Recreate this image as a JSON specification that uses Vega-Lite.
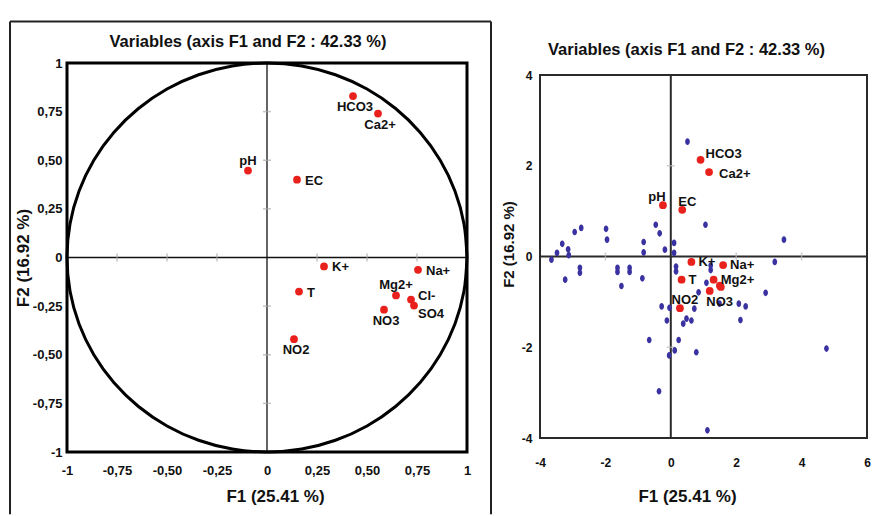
{
  "$schema": "https://vega.github.io/schema/vega-lite/v6.json",
  "padding": {"left": 9, "top": 20, "right": 0, "bottom": 0},
  "bounds": "flush",
  "spacing": 73,
  "config": {
    "font": "Liberation Sans",
    "view": {"stroke": null},
    "axis": {"domain": false, "ticks": false, "tickSize": 0, "grid": false, "labelFontWeight": "bold", "titleFontWeight": "bold", "labelColor": "#111", "titleColor": "#111", "labelOverlap": false, "labelFlush": false}
  },
  "datasets": {
    "circle": [
      {"a": 0, "cx": 1, "cy": 0}, {"a": 10, "cx": 0.9848, "cy": 0.1736}, {"a": 20, "cx": 0.9397, "cy": 0.342}, {"a": 30, "cx": 0.866, "cy": 0.5},
      {"a": 40, "cx": 0.766, "cy": 0.6428}, {"a": 50, "cx": 0.6428, "cy": 0.766}, {"a": 60, "cx": 0.5, "cy": 0.866}, {"a": 70, "cx": 0.342, "cy": 0.9397},
      {"a": 80, "cx": 0.1736, "cy": 0.9848}, {"a": 90, "cx": 0, "cy": 1}, {"a": 100, "cx": -0.1736, "cy": 0.9848}, {"a": 110, "cx": -0.342, "cy": 0.9397},
      {"a": 120, "cx": -0.5, "cy": 0.866}, {"a": 130, "cx": -0.6428, "cy": 0.766}, {"a": 140, "cx": -0.766, "cy": 0.6428}, {"a": 150, "cx": -0.866, "cy": 0.5},
      {"a": 160, "cx": -0.9397, "cy": 0.342}, {"a": 170, "cx": -0.9848, "cy": 0.1736}, {"a": 180, "cx": -1, "cy": 0}, {"a": 190, "cx": -0.9848, "cy": -0.1736},
      {"a": 200, "cx": -0.9397, "cy": -0.342}, {"a": 210, "cx": -0.866, "cy": -0.5}, {"a": 220, "cx": -0.766, "cy": -0.6428}, {"a": 230, "cx": -0.6428, "cy": -0.766},
      {"a": 240, "cx": -0.5, "cy": -0.866}, {"a": 250, "cx": -0.342, "cy": -0.9397}, {"a": 260, "cx": -0.1736, "cy": -0.9848}, {"a": 270, "cx": 0, "cy": -1},
      {"a": 280, "cx": 0.1736, "cy": -0.9848}, {"a": 290, "cx": 0.342, "cy": -0.9397}, {"a": 300, "cx": 0.5, "cy": -0.866}, {"a": 310, "cx": 0.6428, "cy": -0.766},
      {"a": 320, "cx": 0.766, "cy": -0.6428}, {"a": 330, "cx": 0.866, "cy": -0.5}, {"a": 340, "cx": 0.9397, "cy": -0.342}, {"a": 350, "cx": 0.9848, "cy": -0.1736},
      {"a": 360, "cx": 1, "cy": 0}
    ],
    "ticksL": [{"v": -0.75}, {"v": -0.5}, {"v": -0.25}, {"v": 0.25}, {"v": 0.5}, {"v": 0.75}],
    "ticksRx": [{"v": -2}, {"v": 2}, {"v": 4}],
    "ticksRy": [{"v": -2}, {"v": 2}],
    "vars": [
      {"name": "HCO3", "F1": 0.43, "F2": 0.83},
      {"name": "Ca2+", "F1": 0.555, "F2": 0.74},
      {"name": "pH", "F1": -0.095, "F2": 0.447},
      {"name": "EC", "F1": 0.15, "F2": 0.4},
      {"name": "K+", "F1": 0.285, "F2": -0.046},
      {"name": "Na+", "F1": 0.755, "F2": -0.063},
      {"name": "T", "F1": 0.16, "F2": -0.175},
      {"name": "Mg2+", "F1": 0.645, "F2": -0.195},
      {"name": "Cl-", "F1": 0.72, "F2": -0.216},
      {"name": "SO4", "F1": 0.735, "F2": -0.247},
      {"name": "NO3", "F1": 0.585, "F2": -0.268},
      {"name": "NO2", "F1": 0.135, "F2": -0.42}
    ],
    "varsR": [
      {"name": "HCO3", "F1": 0.91, "F2": 2.13},
      {"name": "Ca2+", "F1": 1.17, "F2": 1.86},
      {"name": "pH", "F1": -0.24, "F2": 1.13},
      {"name": "EC", "F1": 0.35, "F2": 1.03},
      {"name": "K+", "F1": 0.63, "F2": -0.12},
      {"name": "Na+", "F1": 1.6, "F2": -0.19},
      {"name": "T", "F1": 0.33, "F2": -0.51},
      {"name": "Mg2+", "F1": 1.31, "F2": -0.51},
      {"name": "Cl-", "F1": 1.5, "F2": -0.64},
      {"name": "SO4", "F1": 1.53, "F2": -0.67},
      {"name": "NO3", "F1": 1.19, "F2": -0.76},
      {"name": "NO2", "F1": 0.28, "F2": -1.14}
    ],
    "obs": [
      {"F1": 0.51, "F2": 2.53}, {"F1": 1.06, "F2": 0.7}, {"F1": 3.46, "F2": 0.37}, {"F1": 3.18, "F2": -0.12},
      {"F1": -3.65, "F2": -0.07}, {"F1": -3.48, "F2": 0.08}, {"F1": -3.32, "F2": 0.28}, {"F1": -3.14, "F2": 0.16},
      {"F1": -3.12, "F2": 0.03}, {"F1": -2.94, "F2": 0.54}, {"F1": -2.74, "F2": 0.63}, {"F1": -2.78, "F2": -0.25},
      {"F1": -2.78, "F2": -0.36}, {"F1": -3.23, "F2": -0.51}, {"F1": -1.98, "F2": 0.61}, {"F1": -1.95, "F2": 0.37},
      {"F1": -1.63, "F2": -0.25}, {"F1": -1.63, "F2": -0.34}, {"F1": -1.26, "F2": -0.25}, {"F1": -1.26, "F2": -0.34},
      {"F1": -1.51, "F2": -0.65}, {"F1": -0.83, "F2": 0.32}, {"F1": -0.83, "F2": 0.09}, {"F1": -0.87, "F2": -0.48},
      {"F1": -0.46, "F2": 0.7}, {"F1": -0.34, "F2": 0.51}, {"F1": -0.18, "F2": 0.15}, {"F1": 0.1, "F2": 0.3},
      {"F1": 0.1, "F2": 0.08}, {"F1": 0.16, "F2": -0.22}, {"F1": 0.16, "F2": -0.33}, {"F1": 1.22, "F2": -0.2},
      {"F1": 1.22, "F2": -0.3}, {"F1": 1.09, "F2": -0.58}, {"F1": 0.85, "F2": -0.79}, {"F1": 1.49, "F2": -1.04},
      {"F1": 2.08, "F2": -1.04}, {"F1": 2.29, "F2": -1.1}, {"F1": 2.13, "F2": -1.4}, {"F1": 2.9, "F2": -0.8},
      {"F1": 4.76, "F2": -2.03}, {"F1": -0.28, "F2": -1.1}, {"F1": -0.04, "F2": -1.13}, {"F1": -0.12, "F2": -1.41},
      {"F1": 0.38, "F2": -1.48}, {"F1": 0.48, "F2": -1.37}, {"F1": 0.63, "F2": -1.41}, {"F1": 0.72, "F2": -1.15},
      {"F1": -0.66, "F2": -1.84}, {"F1": 0.24, "F2": -1.84}, {"F1": 0.12, "F2": -2.07}, {"F1": -0.05, "F2": -2.18},
      {"F1": 0.78, "F2": -2.11}, {"F1": -0.36, "F2": -2.97}, {"F1": 1.12, "F2": -3.83}
    ]
  },
  "hconcat": [
    {
      "width": 400,
      "height": 389,
      "title": {"text": "Variables  (axis F1 and F2 : 42.33 %)", "fontSize": 16.5, "fontWeight": "bold", "color": "#111", "offset": -30, "dx": -19, "frame": "group"},
      "layer": [
        {
          "data": {"values": [{}]},
          "mark": {"type": "rect", "filled": false, "stroke": "#000", "strokeWidth": 3},
          "encoding": {
            "x": {"datum": -1, "type": "quantitative", "scale": {"domain": [-1, 1], "nice": false, "zero": false}},
            "x2": {"datum": 1},
            "y": {"datum": -1, "type": "quantitative", "scale": {"domain": [-1, 1], "nice": false, "zero": false}},
            "y2": {"datum": 1}
          }
        },
        {
          "data": {"values": [{}]},
          "mark": {"type": "rule", "stroke": "#222", "strokeWidth": 2},
          "encoding": {
            "x": {"datum": -1.285, "type": "quantitative", "scale": {"domain": [-1, 1], "nice": false, "zero": false}},
            "y": {"datum": 1.2134, "type": "quantitative", "scale": {"domain": [-1, 1], "nice": false, "zero": false}},
            "y2": {"datum": -1.32}
          }
        },
        {
          "data": {"values": [{}]},
          "mark": {"type": "rule", "stroke": "#222", "strokeWidth": 2},
          "encoding": {
            "x": {"datum": 1.12, "type": "quantitative", "scale": {"domain": [-1, 1], "nice": false, "zero": false}},
            "y": {"datum": 1.2134, "type": "quantitative", "scale": {"domain": [-1, 1], "nice": false, "zero": false}},
            "y2": {"datum": -1.32}
          }
        },
        {
          "data": {"values": [{}]},
          "mark": {"type": "rule", "stroke": "#222", "strokeWidth": 2},
          "encoding": {
            "x": {"datum": -1.285, "type": "quantitative", "scale": {"domain": [-1, 1], "nice": false, "zero": false}},
            "x2": {"datum": 1.12},
            "y": {"datum": 1.2134, "type": "quantitative", "scale": {"domain": [-1, 1], "nice": false, "zero": false}}
          }
        },
        {
          "data": {"values": [{}]},
          "mark": {"type": "rule", "stroke": "#111", "strokeWidth": 1.3},
          "encoding": {
            "x": {"datum": 0, "type": "quantitative", "scale": {"domain": [-1, 1], "nice": false, "zero": false}}
          }
        },
        {
          "data": {"values": [{}]},
          "mark": {"type": "rule", "stroke": "#111", "strokeWidth": 1.3},
          "encoding": {
            "y": {"datum": 0, "type": "quantitative", "scale": {"domain": [-1, 1], "nice": false, "zero": false}}
          }
        },
        {
          "data": {"name": "ticksL"},
          "mark": {"type": "tick", "orient": "vertical", "color": "#aaa", "size": 8, "thickness": 1.5},
          "encoding": {
            "x": {"field": "v", "type": "quantitative", "scale": {"domain": [-1, 1], "nice": false, "zero": false}},
            "y": {"datum": 0, "type": "quantitative", "scale": {"domain": [-1, 1], "nice": false, "zero": false}}
          }
        },
        {
          "data": {"name": "ticksL"},
          "mark": {"type": "tick", "orient": "horizontal", "color": "#aaa", "size": 8, "thickness": 1.5},
          "encoding": {
            "y": {"field": "v", "type": "quantitative", "scale": {"domain": [-1, 1], "nice": false, "zero": false}},
            "x": {"datum": 0, "type": "quantitative", "scale": {"domain": [-1, 1], "nice": false, "zero": false}}
          }
        },
        {
          "data": {"name": "circle"},
          "mark": {"type": "line", "stroke": "#000", "strokeWidth": 3, "interpolate": "cardinal"},
          "encoding": {
            "x": {"field": "cx", "type": "quantitative", "scale": {"domain": [-1, 1], "nice": false, "zero": false}},
            "y": {"field": "cy", "type": "quantitative", "scale": {"domain": [-1, 1], "nice": false, "zero": false}},
            "order": {"field": "a", "type": "quantitative"}
          }
        },
        {
          "data": {"name": "vars"},
          "mark": {"type": "point", "filled": true, "color": "#e8211c", "opacity": 1, "size": 60},
          "encoding": {
            "x": {"field": "F1", "type": "quantitative", "scale": {"domain": [-1, 1], "nice": false, "zero": false},
              "axis": {"values": [-1, -0.75, -0.5, -0.25, 0, 0.25, 0.5, 0.75, 1], "labelFontSize": 13, "labelPadding": 12, "title": "F1  (25.41 %)", "titleFontSize": 17, "titlePadding": 11, "titleX": 208,
                "labelExpr": "(datum.value < 0 ? '-' : '') + (abs(datum.value) == 1 || datum.value == 0 ? format(abs(datum.value), 'd') : replace(format(abs(datum.value), '.2f'), '.', ','))"}},
            "y": {"field": "F2", "type": "quantitative", "scale": {"domain": [-1, 1], "nice": false, "zero": false},
              "axis": {"values": [-1, -0.75, -0.5, -0.25, 0, 0.25, 0.5, 0.75, 1], "labelFontSize": 13, "labelPadding": 5, "title": "F2  (16.92 %)", "titleFontSize": 17, "titlePadding": 0,
                "labelExpr": "(datum.value < 0 ? '-' : '') + (abs(datum.value) == 1 || datum.value == 0 ? format(abs(datum.value), 'd') : replace(format(abs(datum.value), '.2f'), '.', ','))"}}
          }
        },
        {
          "data": {"name": "vars"},
          "transform": [{"filter": {"field": "name", "oneOf": ["HCO3", "Ca2+", "NO3", "NO2"]}}],
          "mark": {"type": "text", "fontSize": 13, "fontWeight": "bold", "color": "#111", "align": "center", "baseline": "top", "dy": 5, "dx": 2},
          "encoding": {
            "x": {"field": "F1", "type": "quantitative", "scale": {"domain": [-1, 1], "nice": false, "zero": false}},
            "y": {"field": "F2", "type": "quantitative", "scale": {"domain": [-1, 1], "nice": false, "zero": false}},
            "text": {"field": "name"}
          }
        },
        {
          "data": {"name": "vars"},
          "transform": [{"filter": {"field": "name", "oneOf": ["pH", "Mg2+"]}}],
          "mark": {"type": "text", "fontSize": 13, "fontWeight": "bold", "color": "#111", "align": "center", "baseline": "alphabetic", "dy": -6},
          "encoding": {
            "x": {"field": "F1", "type": "quantitative", "scale": {"domain": [-1, 1], "nice": false, "zero": false}},
            "y": {"field": "F2", "type": "quantitative", "scale": {"domain": [-1, 1], "nice": false, "zero": false}},
            "text": {"field": "name"}
          }
        },
        {
          "data": {"name": "vars"},
          "transform": [{"filter": {"field": "name", "oneOf": ["EC", "K+", "Na+", "T"]}}],
          "mark": {"type": "text", "fontSize": 13, "fontWeight": "bold", "color": "#111", "align": "left", "baseline": "middle", "dx": 8, "dy": 1},
          "encoding": {
            "x": {"field": "F1", "type": "quantitative", "scale": {"domain": [-1, 1], "nice": false, "zero": false}},
            "y": {"field": "F2", "type": "quantitative", "scale": {"domain": [-1, 1], "nice": false, "zero": false}},
            "text": {"field": "name"}
          }
        },
        {
          "data": {"name": "vars"},
          "transform": [{"filter": {"field": "name", "oneOf": ["Cl-"]}}],
          "mark": {"type": "text", "fontSize": 13, "fontWeight": "bold", "color": "#111", "align": "left", "baseline": "middle", "dx": 7, "dy": -4},
          "encoding": {
            "x": {"field": "F1", "type": "quantitative", "scale": {"domain": [-1, 1], "nice": false, "zero": false}},
            "y": {"field": "F2", "type": "quantitative", "scale": {"domain": [-1, 1], "nice": false, "zero": false}},
            "text": {"field": "name"}
          }
        },
        {
          "data": {"name": "vars"},
          "transform": [{"filter": {"field": "name", "oneOf": ["SO4"]}}],
          "mark": {"type": "text", "fontSize": 13, "fontWeight": "bold", "color": "#111", "align": "left", "baseline": "middle", "dx": 4, "dy": 8},
          "encoding": {
            "x": {"field": "F1", "type": "quantitative", "scale": {"domain": [-1, 1], "nice": false, "zero": false}},
            "y": {"field": "F2", "type": "quantitative", "scale": {"domain": [-1, 1], "nice": false, "zero": false}},
            "text": {"field": "name"}
          }
        }
      ]
    },
    {
      "width": 327,
      "height": 375,
      "title": {"text": "Variables  (axis F1 and F2 : 42.33 %)", "fontSize": 16.5, "fontWeight": "bold", "color": "#111", "offset": 5, "dx": -17, "frame": "group"},
      "layer": [
        {
          "data": {"values": [{}]},
          "mark": {"type": "rect", "filled": false, "stroke": "#2a2a2a", "strokeWidth": 2},
          "encoding": {
            "x": {"datum": -4, "type": "quantitative", "scale": {"domain": [-4, 6], "nice": false, "zero": false}},
            "x2": {"datum": 6},
            "y": {"datum": -4, "type": "quantitative", "scale": {"domain": [-4, 4.2645], "nice": false, "zero": false}},
            "y2": {"datum": 4}
          }
        },
        {
          "data": {"values": [{}]},
          "mark": {"type": "rule", "stroke": "#2a2a2a", "strokeWidth": 2},
          "encoding": {
            "x": {"datum": 0, "type": "quantitative", "scale": {"domain": [-4, 6], "nice": false, "zero": false}},
            "y": {"datum": -4, "type": "quantitative", "scale": {"domain": [-4, 4.2645], "nice": false, "zero": false}},
            "y2": {"datum": 4}
          }
        },
        {
          "data": {"values": [{}]},
          "mark": {"type": "rule", "stroke": "#2a2a2a", "strokeWidth": 2},
          "encoding": {
            "x": {"datum": -4, "type": "quantitative", "scale": {"domain": [-4, 6], "nice": false, "zero": false}},
            "x2": {"datum": 6},
            "y": {"datum": 0, "type": "quantitative", "scale": {"domain": [-4, 4.2645], "nice": false, "zero": false}}
          }
        },
        {
          "data": {"name": "ticksRx"},
          "mark": {"type": "tick", "orient": "vertical", "color": "#bbb", "size": 8, "thickness": 1.5},
          "encoding": {
            "x": {"field": "v", "type": "quantitative", "scale": {"domain": [-4, 6], "nice": false, "zero": false}},
            "y": {"datum": 0, "type": "quantitative", "scale": {"domain": [-4, 4.2645], "nice": false, "zero": false}}
          }
        },
        {
          "data": {"name": "ticksRy"},
          "mark": {"type": "tick", "orient": "horizontal", "color": "#bbb", "size": 8, "thickness": 1.5},
          "encoding": {
            "y": {"field": "v", "type": "quantitative", "scale": {"domain": [-4, 4.2645], "nice": false, "zero": false}},
            "x": {"datum": 0, "type": "quantitative", "scale": {"domain": [-4, 6], "nice": false, "zero": false}}
          }
        },
        {
          "data": {"name": "obs"},
          "mark": {"type": "point", "filled": true, "color": "#3a32a0", "opacity": 1, "size": 45, "shape": "M0,-1A0.7,1,0,1,1,0,1A0.7,1,0,1,1,0,-1Z"},
          "encoding": {
            "x": {"field": "F1", "type": "quantitative", "scale": {"domain": [-4, 6], "nice": false, "zero": false},
              "axis": {"values": [-4, -2, 0, 2, 4, 6], "labelFontSize": 12, "labelPadding": 19, "title": "F1  (25.41 %)", "titleFontSize": 17, "titlePadding": 20, "titleX": 147,
                "labelExpr": "(datum.value < 0 ? '-' : '') + format(abs(datum.value), 'd')"}},
            "y": {"field": "F2", "type": "quantitative", "scale": {"domain": [-4, 4.2645], "nice": false, "zero": false},
              "axis": {"values": [-4, -2, 0, 2, 4], "labelFontSize": 12, "labelPadding": 8, "title": "F2  (16.92 %)", "titleFontSize": 15, "titlePadding": 5, "titleY": 181,
                "labelExpr": "(datum.value < 0 ? '-' : '') + format(abs(datum.value), 'd')"}}
          }
        },
        {
          "data": {"name": "varsR"},
          "mark": {"type": "point", "filled": true, "color": "#e8211c", "opacity": 1, "size": 60},
          "encoding": {
            "x": {"field": "F1", "type": "quantitative", "scale": {"domain": [-4, 6], "nice": false, "zero": false}},
            "y": {"field": "F2", "type": "quantitative", "scale": {"domain": [-4, 4.2645], "nice": false, "zero": false}}
          }
        },
        {
          "data": {"name": "varsR"},
          "transform": [{"filter": {"field": "name", "oneOf": ["K+", "Na+", "T", "Mg2+"]}}],
          "mark": {"type": "text", "fontSize": 13, "fontWeight": "bold", "color": "#111", "align": "left", "baseline": "middle", "dx": 7, "dy": 0},
          "encoding": {
            "x": {"field": "F1", "type": "quantitative", "scale": {"domain": [-4, 6], "nice": false, "zero": false}},
            "y": {"field": "F2", "type": "quantitative", "scale": {"domain": [-4, 4.2645], "nice": false, "zero": false}},
            "text": {"field": "name"}
          }
        },
        {
          "data": {"name": "varsR"},
          "transform": [{"filter": {"field": "name", "oneOf": ["HCO3"]}}],
          "mark": {"type": "text", "fontSize": 13, "fontWeight": "bold", "color": "#111", "align": "left", "baseline": "middle", "dx": 5, "dy": -6},
          "encoding": {
            "x": {"field": "F1", "type": "quantitative", "scale": {"domain": [-4, 6], "nice": false, "zero": false}},
            "y": {"field": "F2", "type": "quantitative", "scale": {"domain": [-4, 4.2645], "nice": false, "zero": false}},
            "text": {"field": "name"}
          }
        },
        {
          "data": {"name": "varsR"},
          "transform": [{"filter": {"field": "name", "oneOf": ["Ca2+"]}}],
          "mark": {"type": "text", "fontSize": 13, "fontWeight": "bold", "color": "#111", "align": "left", "baseline": "middle", "dx": 10, "dy": 2},
          "encoding": {
            "x": {"field": "F1", "type": "quantitative", "scale": {"domain": [-4, 6], "nice": false, "zero": false}},
            "y": {"field": "F2", "type": "quantitative", "scale": {"domain": [-4, 4.2645], "nice": false, "zero": false}},
            "text": {"field": "name"}
          }
        },
        {
          "data": {"name": "varsR"},
          "transform": [{"filter": {"field": "name", "oneOf": ["pH"]}}],
          "mark": {"type": "text", "fontSize": 13, "fontWeight": "bold", "color": "#111", "align": "center", "baseline": "alphabetic", "dy": -4, "dx": -6},
          "encoding": {
            "x": {"field": "F1", "type": "quantitative", "scale": {"domain": [-4, 6], "nice": false, "zero": false}},
            "y": {"field": "F2", "type": "quantitative", "scale": {"domain": [-4, 4.2645], "nice": false, "zero": false}},
            "text": {"field": "name"}
          }
        },
        {
          "data": {"name": "varsR"},
          "transform": [{"filter": {"field": "name", "oneOf": ["EC", "NO2"]}}],
          "mark": {"type": "text", "fontSize": 13, "fontWeight": "bold", "color": "#111", "align": "center", "baseline": "alphabetic", "dy": -4, "dx": 5},
          "encoding": {
            "x": {"field": "F1", "type": "quantitative", "scale": {"domain": [-4, 6], "nice": false, "zero": false}},
            "y": {"field": "F2", "type": "quantitative", "scale": {"domain": [-4, 4.2645], "nice": false, "zero": false}},
            "text": {"field": "name"}
          }
        },
        {
          "data": {"name": "varsR"},
          "transform": [{"filter": {"field": "name", "oneOf": ["NO3"]}}],
          "mark": {"type": "text", "fontSize": 13, "fontWeight": "bold", "color": "#111", "align": "center", "baseline": "top", "dy": 5, "dx": 10},
          "encoding": {
            "x": {"field": "F1", "type": "quantitative", "scale": {"domain": [-4, 6], "nice": false, "zero": false}},
            "y": {"field": "F2", "type": "quantitative", "scale": {"domain": [-4, 4.2645], "nice": false, "zero": false}},
            "text": {"field": "name"}
          }
        }
      ]
    }
  ]
}
